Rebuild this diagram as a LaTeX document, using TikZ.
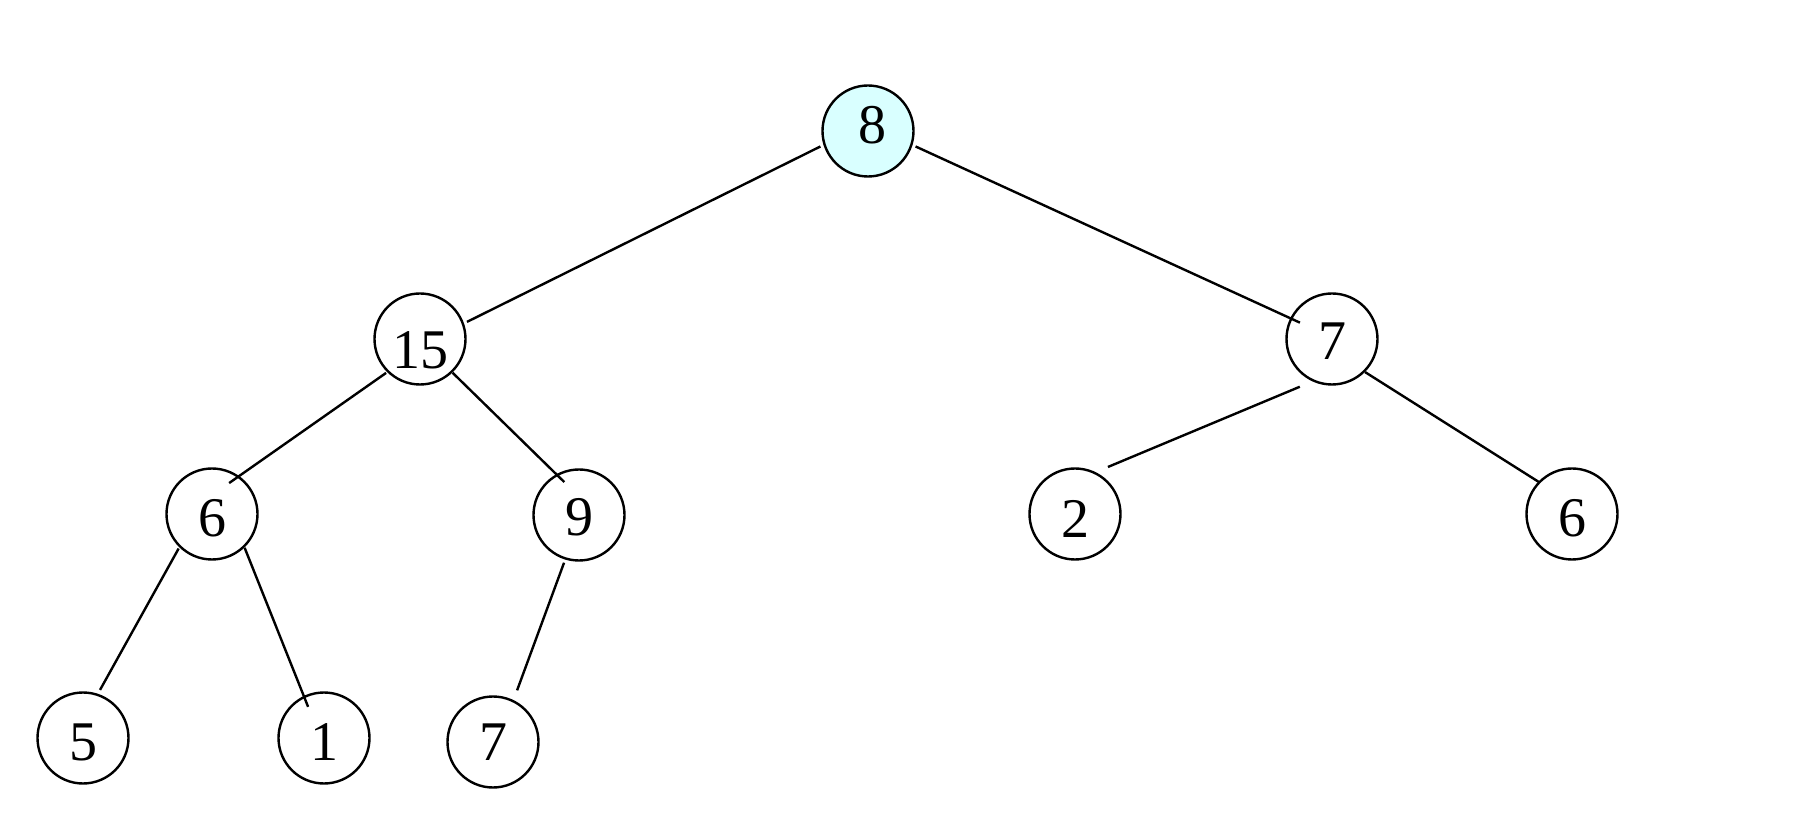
\documentclass[tikz,border=0pt]{standalone}
\usepackage{fontspec}
\setmainfont{Liberation Serif}
\usetikzlibrary{calc}
\definecolor{rootfill}{RGB}{217,255,255}
\tikzset{
  treenode/.style={circle, draw=black, line width=1.2pt, fill=white, minimum size=45.5pt, inner sep=0pt},
  rootnode/.style={treenode, fill=rootfill},
  digit/.style={font=\fontsize{28}{30}\selectfont, inner sep=0pt},
  edge/.style={draw=black, line width=1.2pt}
}
\begin{document}
\begin{tikzpicture}[x=0.5pt, y=-0.5pt]
\useasboundingbox (0,0) rectangle (1806,828);
% nodes
\node[rootnode, label={[digit, xshift=2pt, yshift=3pt]center:8}] (n8) at (868,131) {};
\node[treenode, label={[digit, yshift=-5.5pt]center:15}] (n15) at (420,339) {};
\node[treenode, label={[digit, yshift=-1pt]center:7}] (n7) at (1332,339) {};
\node[treenode, label={[digit, yshift=-2pt]center:6}] (n6) at (212,514) {};
\node[treenode, label={[digit, yshift=-1.2pt]center:9}] (n9) at (579,515) {};
\node[treenode, label={[digit, yshift=-2.5pt]center:2}] (n2) at (1075,514) {};
\node[treenode, label={[digit, yshift=-2pt]center:6}] (n6r) at (1572,514) {};
\node[treenode, label={[digit, yshift=-2pt]center:5}] (n5) at (83,738) {};
\node[treenode, label={[digit, yshift=-2pt]center:1}] (n1) at (324,738) {};
\node[treenode, label={[digit]center:7}] (n7b) at (493,742) {};
% edges
\draw[edge] ($(n8.center)+(198:25pt)$) -- ($(n15.center)+(20:25pt)$);
\draw[edge] ($(n8.center)+(342:25pt)$) -- ($(n7.center)+(153:18pt)$);
\draw[edge] ($(n15.center)+(225:24pt)$) -- ($(n6.center)+(61:17.7pt)$);
\draw[edge] ($(n15.center)+(314:23.5pt)$) -- ($(n9.center)+(114:18pt)$);
\draw[edge] ($(n7.center)+(236:28.8pt)$) -- ($(n2.center)+(55:28.7pt)$);
\draw[edge] ($(n7.center)+(315:23.4pt)$) -- ($(n6r.center)+(136:23pt)$);
\draw[edge] ($(n6.center)+(226:24pt)$) -- ($(n5.center)+(70.5:25.5pt)$);
\draw[edge] ($(n6.center)+(314:23.5pt)$) -- ($(n1.center)+(117:17.5pt)$);
\draw[edge] ($(n9.center)+(252.6:25pt)$) -- ($(n7b.center)+(65:28.5pt)$);
\end{tikzpicture}
\end{document}
